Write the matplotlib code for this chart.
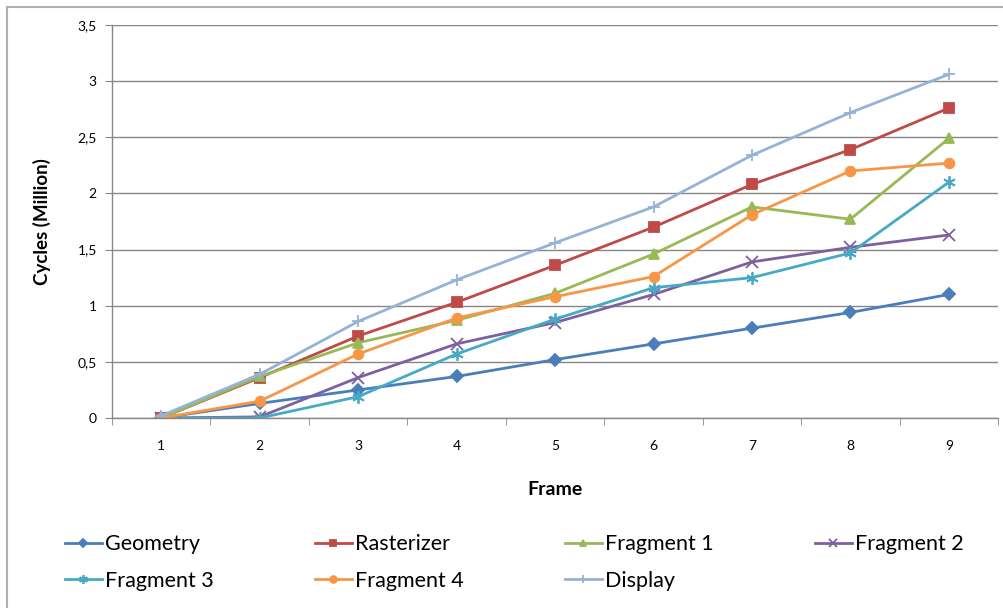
import matplotlib.pyplot as plt
from matplotlib.patches import Rectangle

frames = [1, 2, 3, 4, 5, 6, 7, 8, 9]
geometry = [0.0, 0.13, 0.25, 0.37, 0.52, 0.66, 0.80, 0.94, 1.10]
rasterizer = [0.0, 0.36, 0.73, 1.03, 1.36, 1.70, 2.08, 2.39, 2.76]
fragment1 = [0.0, 0.37, 0.67, 0.87, 1.11, 1.46, 1.88, 1.77, 2.49]
fragment2 = [0.0, 0.01, 0.36, 0.66, 0.85, 1.10, 1.39, 1.52, 1.63]
fragment3 = [0.0, 0.0, 0.19, 0.57, 0.88, 1.16, 1.25, 1.47, 2.10]
fragment4 = [0.0, 0.15, 0.57, 0.89, 1.08, 1.26, 1.81, 2.20, 2.27]
display = [0.02, 0.39, 0.86, 1.23, 1.56, 1.88, 2.34, 2.72, 3.06]
yticks = [0, 0.5, 1, 1.5, 2, 2.5, 3, 3.5]
ytick_labels = ["0", "0,5", "1", "1,5", "2", "2,5", "3", "3,5"]

plt.rcParams['font.family'] = ['Lato', 'DejaVu Sans']

series = [
    ("Geometry", geometry, "#4a7ebb", "D", 6),
    ("Rasterizer", rasterizer, "#be4b48", "s", 7),
    ("Fragment 1", fragment1, "#98b954", "^", 7),
    ("Fragment 2", fragment2, "#7d60a0", "x", 8),
    ("Fragment 3", fragment3, "#46aac5", (6, 2, 0), 9),
    ("Fragment 4", fragment4, "#f79646", "o", 7),
    ("Display", display, "#95b3d7", "+", 9),
]

fig = plt.figure(figsize=(10.04, 6.08), dpi=100)
ax = fig.add_axes([0.1116, 0.3125, 0.8825, 0.6464])

handles = []
for name, vals, color, marker, size in series:
    h, = ax.plot(frames, vals, color=color, marker=marker, markersize=size,
                 linewidth=2, label=name, markeredgewidth=1.3)
    handles.append(h)

ax.set_xlim(0.5, 9.5)
ax.set_ylim(0, 3.5)
ax.set_yticks(yticks)
ax.set_yticklabels(ytick_labels)
ax.set_xticks(frames)
ax.set_xticks([x + 0.5 for x in range(0, 10)], minor=True)
ax.tick_params(axis='x', which='major', length=0, pad=16, labelsize=10)
ax.tick_params(axis='x', which='minor', length=5, color='#868686')
ax.tick_params(axis='y', length=5, color='#868686', labelsize=10, pad=6)
ax.grid(axis='y', color='#868686', linewidth=1)
ax.set_axisbelow(True)
for side in ['top', 'right']:
    ax.spines[side].set_visible(False)
for side in ['left', 'bottom']:
    ax.spines[side].set_color('#868686')
    ax.spines[side].set_linewidth(1)

ax.set_xlabel("Frame", fontsize=14, fontweight='bold', labelpad=21)
ax.set_ylabel("Cycles (Million)", fontsize=13.5, fontweight='bold', labelpad=19)

# one legend per column so the columns sit where the reference has them
col_x = [65, 315, 565, 815]
for c, x in enumerate(col_x):
    idx = [i for i in (c, c + 4) if i < len(series)]
    leg = fig.legend([handles[i] for i in idx], [series[i][0] for i in idx],
                     loc='upper left', bbox_to_anchor=(x / 1004, 0.121),
                     frameon=False, fontsize=15.5, handlelength=1.7,
                     handletextpad=0.15, markerscale=0.7, labelspacing=0.75,
                     borderpad=0, borderaxespad=0)

fig.patches.append(Rectangle((0.007, -0.1), 1.1, 1.0885, transform=fig.transFigure,
                             fill=False, edgecolor='#b0b0b0', linewidth=1.5))

fig.savefig("out.png", dpi=100)
